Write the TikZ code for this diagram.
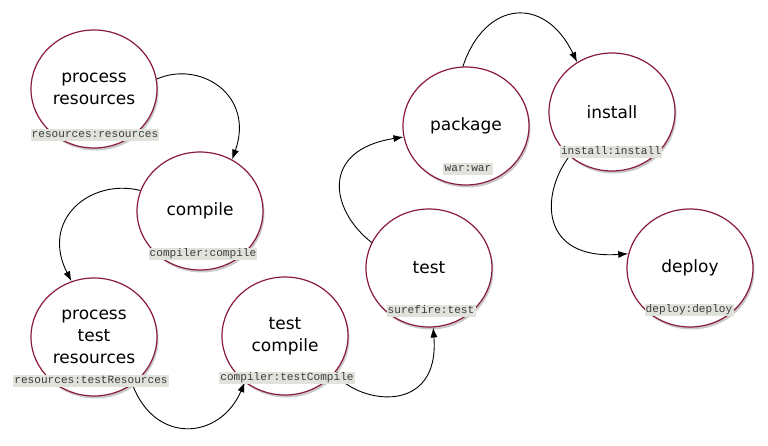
\documentclass[tikz,border=0pt]{standalone}
\usepackage{fontspec}
\setmainfont{DejaVu Sans}
\newfontfamily\labelmono{Liberation Mono}
\usetikzlibrary{shapes.geometric,shadows,arrows.meta}
\definecolor{ring}{RGB}{138,28,58}
\definecolor{tagbg}{RGB}{224,226,220}
\definecolor{tagfg}{RGB}{60,60,60}
\tikzset{
  phase/.style={ellipse, draw=ring, line width=1.2pt, fill=white,
    minimum width=126pt, minimum height=118pt, inner sep=0pt,
    align=center, font=\fontsize{17}{22}\selectfont,
    drop shadow={shadow xshift=1.5pt, shadow yshift=-2.5pt, opacity=0.35, fill=black!60}},
  goal/.style={fill=tagbg, text=tagfg, inner xsep=1.2pt, inner ysep=1pt,
    font=\labelmono\fontsize{11.1}{12}\selectfont, text height=8pt, text depth=2.5pt},
  flow/.style={line width=0.9pt, -{Latex[length=10pt,width=7pt]}}
}
\begin{document}
\begin{tikzpicture}[x=1pt,y=-1pt]
\useasboundingbox (0,0) rectangle (768,446);
\node[phase] (pr) at (94,89) {process\\resources};
\node[phase] (co) at (200,211) {compile};
\node[phase] (ptr) at (94,337) {process\\test\\resources};
\node[phase] (tc) at (285,336) {test\\compile};
\node[phase] (te) at (429,268) {test};
\node[phase] (pa) at (466,126) {package};
\node[phase] (in) at (612,112) {install};
\node[phase] (de) at (690,268) {deploy};

\draw[flow] (pr.9) .. controls (200,60) and (255,95) .. (co.58);
\draw[flow] (co.161) .. controls (90,178) and (40,220) .. (ptr.112);
\draw[flow] (ptr.-51) .. controls (155,445) and (220,440) .. (tc.229);
\draw[flow] (tc.-37) .. controls (360,405) and (440,415) .. (te.-86);
\draw[flow] (te.156) .. controls (330,210) and (320,150) .. (pa.190);
\draw[flow] (pa.93) .. controls (485,0) and (545,-5) .. (in.125);
\draw[flow] (in.226) .. controls (540,195) and (540,260) .. (de.167);

\node[goal] (g1) at (95,135) {resources:resources};
\node[goal] (g2) at (203,254) {compiler:compile};
\node[goal] (g3) at (91,381) {resources:testResources};
\node[goal] (g4) at (287,378) {compiler:testCompile};
\node[goal] (g5) at (431,311) {surefire:test};
\node[goal] (g6) at (468,169) {war:war};
\node[goal] (g7) at (611,152) {install:install};
\node[goal] (g8) at (689,310) {deploy:deploy};
\end{tikzpicture}
\end{document}
